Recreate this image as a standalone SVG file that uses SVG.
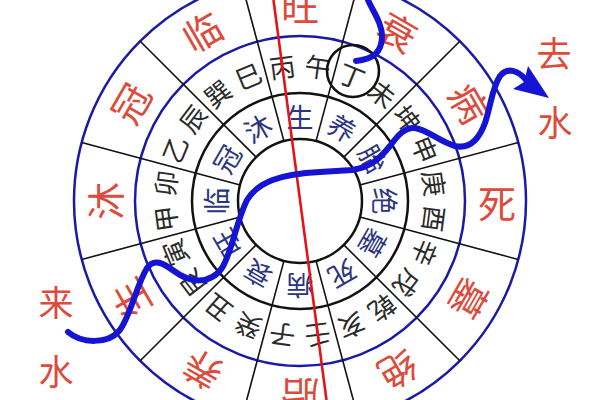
<svg xmlns="http://www.w3.org/2000/svg" width="600" height="400" viewBox="0 0 600 400">
  <style>
    .bc{fill:none;stroke:#1a1aa6;stroke-width:2.5}
    .kc{fill:none;stroke:#111;stroke-width:2.5}
    .dv{stroke:#111;stroke-width:1.6}
    .t{font-family:"Noto Sans CJK SC","Noto Sans CJK JP",sans-serif;text-anchor:middle;dominant-baseline:central}
    .m{font-size:26px;fill:#2a2a2a}
    .i{font-size:27px;fill:#2b3580}
    .o{font-size:38px;fill:#dc4b3c}
    .w{fill:none;stroke:#1414d2;stroke-width:6;stroke-linecap:round;stroke-linejoin:round}
  </style>
  <rect width="600" height="400" fill="#fff"/>
  <g id="rings">
    <circle class="bc" cx="300" cy="201" r="226"/>
    <circle class="bc" cx="300" cy="201" r="165"/>
    <circle class="kc" cx="300" cy="201" r="108"/>
    <circle class="kc" cx="300" cy="201" r="62"/>
  </g>
  <g id="dividers">
    <line class="dv" x1="300" y1="139" x2="300" y2="-25" transform="rotate(15 300 201)"/>
    <line class="dv" x1="300" y1="139" x2="300" y2="-25" transform="rotate(45 300 201)"/>
    <line class="dv" x1="300" y1="139" x2="300" y2="-25" transform="rotate(75 300 201)"/>
    <line class="dv" x1="300" y1="139" x2="300" y2="-25" transform="rotate(105 300 201)"/>
    <line class="dv" x1="300" y1="139" x2="300" y2="-25" transform="rotate(135 300 201)"/>
    <line class="dv" x1="300" y1="139" x2="300" y2="-25" transform="rotate(165 300 201)"/>
    <line class="dv" x1="300" y1="139" x2="300" y2="-25" transform="rotate(195 300 201)"/>
    <line class="dv" x1="300" y1="139" x2="300" y2="-25" transform="rotate(225 300 201)"/>
    <line class="dv" x1="300" y1="139" x2="300" y2="-25" transform="rotate(255 300 201)"/>
    <line class="dv" x1="300" y1="139" x2="300" y2="-25" transform="rotate(285 300 201)"/>
    <line class="dv" x1="300" y1="139" x2="300" y2="-25" transform="rotate(315 300 201)"/>
    <line class="dv" x1="300" y1="139" x2="300" y2="-25" transform="rotate(345 300 201)"/>
  </g>
  <g id="outer-phases" class="t o">
    <text x="300" y="4">旺</text>
    <text x="300" y="4" transform="rotate(30 300 201)">衰</text>
    <text x="300" y="4" transform="rotate(60 300 201)">病</text>
    <text x="497" y="201">死</text>
    <text x="300" y="4" transform="rotate(120 300 201)">墓</text>
    <text x="300" y="4" transform="rotate(150 300 201)">绝</text>
    <text x="300" y="4" transform="rotate(180 300 201)">胎</text>
    <text x="300" y="4" transform="rotate(210 300 201)">养</text>
    <text x="300" y="4" transform="rotate(240 300 201)">生</text>
    <text x="300" y="4" transform="rotate(270 300 201)">沐</text>
    <text x="300" y="4" transform="rotate(300 300 201)">冠</text>
    <text x="300" y="4" transform="rotate(330 300 201)">临</text>
  </g>
  <g id="mountains" class="t m">
    <text x="300" y="64.5" transform="rotate(-7.5 300 201)">丙</text>
    <text x="300" y="64.5" transform="rotate(7.5 300 201)">午</text>
    <text x="300" y="64.5" transform="rotate(22.5 300 201)">丁</text>
    <text x="300" y="64.5" transform="rotate(37.5 300 201)">未</text>
    <text x="300" y="64.5" transform="rotate(52.5 300 201)">坤</text>
    <text x="300" y="64.5" transform="rotate(67.5 300 201)">申</text>
    <text x="300" y="64.5" transform="rotate(82.5 300 201)">庚</text>
    <text x="300" y="64.5" transform="rotate(97.5 300 201)">酉</text>
    <text x="300" y="64.5" transform="rotate(112.5 300 201)">辛</text>
    <text x="300" y="64.5" transform="rotate(127.5 300 201)">戌</text>
    <text x="300" y="64.5" transform="rotate(142.5 300 201)">乾</text>
    <text x="300" y="64.5" transform="rotate(157.5 300 201)">亥</text>
    <text x="300" y="64.5" transform="rotate(172.5 300 201)">壬</text>
    <text x="300" y="64.5" transform="rotate(187.5 300 201)">子</text>
    <text x="300" y="64.5" transform="rotate(202.5 300 201)">癸</text>
    <text x="300" y="64.5" transform="rotate(217.5 300 201)">丑</text>
    <text x="300" y="64.5" transform="rotate(232.5 300 201)">艮</text>
    <text x="300" y="64.5" transform="rotate(247.5 300 201)">寅</text>
    <text x="300" y="64.5" transform="rotate(262.5 300 201)">甲</text>
    <text x="300" y="64.5" transform="rotate(277.5 300 201)">卯</text>
    <text x="300" y="64.5" transform="rotate(292.5 300 201)">乙</text>
    <text x="300" y="64.5" transform="rotate(307.5 300 201)">辰</text>
    <text x="300" y="64.5" transform="rotate(322.5 300 201)">巽</text>
    <text x="300" y="64.5" transform="rotate(337.5 300 201)">巳</text>
  </g>
  <g id="inner-phases" class="t i">
    <text x="300" y="116">生</text>
    <text x="300" y="116" transform="rotate(30 300 201)">养</text>
    <text x="300" y="116" transform="rotate(60 300 201)">胎</text>
    <text x="300" y="116" transform="rotate(90 300 201)">绝</text>
    <text x="300" y="116" transform="rotate(120 300 201)">墓</text>
    <text x="300" y="116" transform="rotate(150 300 201)">死</text>
    <text x="300" y="116" transform="rotate(180 300 201)">病</text>
    <text x="300" y="116" transform="rotate(210 300 201)">衰</text>
    <text x="300" y="116" transform="rotate(240 300 201)">旺</text>
    <text x="300" y="116" transform="rotate(270 300 201)">临</text>
    <text x="300" y="116" transform="rotate(300 300 201)">冠</text>
    <text x="300" y="116" transform="rotate(330 300 201)">沐</text>
  </g>
  <g id="axis">
    <line x1="273.5" y1="0" x2="326.5" y2="400" stroke="#e3141c" stroke-width="2.6"/>
  </g>
  <g id="ding-marker">
    <circle cx="353" cy="71" r="26" fill="none" stroke="#111" stroke-width="2.6"/>
  </g>
  <g id="water-flows">
    <path class="w" d="M368,0 C372,10 383,24 382,38 C381,52 374,59 356,61"/>
    <path class="w" d="M68,332 C82,344 108,344 119,331 C130,318 136,286 147,268 C154,258 163,263 174,271 C190,283 210,285 222,268 C232,252 236,222 247,200 C258,182 280,174 320,172 L352,170 C372,167 380,158 390,146 C398,135 405,127 415,128 C428,130 440,142 455,146 C468,149 478,142 485,123 C491,105 492,88 500,76 C507,67 518,70 526,80"/>
    <polygon points="528,66 549,98 513,89 524,82" fill="#1414d2"/>
  </g>
  <g id="labels" class="t" style="font-size:35px;fill:#dc4b3c">
    <text x="554" y="51">去</text>
    <text x="555" y="120">水</text>
    <text x="56" y="300">来</text>
    <text x="56" y="369">水</text>
  </g>
</svg>
